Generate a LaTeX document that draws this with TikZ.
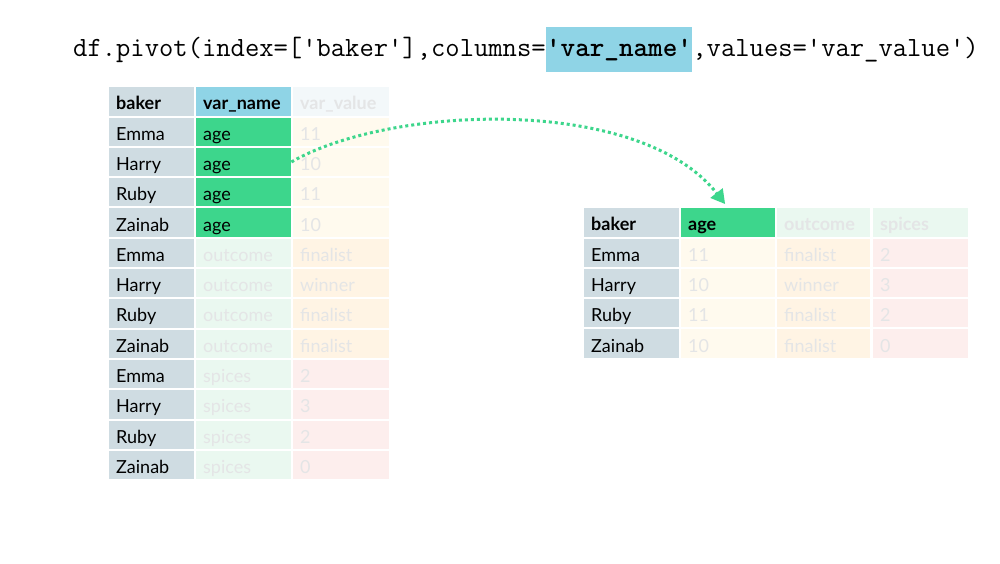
\documentclass[tikz,border=0pt]{standalone}
\usepackage{fontspec}
\setmainfont{Lato}
\usetikzlibrary{arrows.meta}
\definecolor{bakerbg}{RGB}{207,220,226}
\definecolor{hdrblue}{RGB}{143,212,230}
\definecolor{agegreen}{RGB}{61,214,140}
\definecolor{fadetxt}{RGB}{228,229,230}
\definecolor{fblue}{RGB}{243,248,250}
\definecolor{fyel}{RGB}{255,250,238}
\definecolor{fgreen}{RGB}{234,248,240}
\definecolor{forange}{RGB}{255,244,228}
\definecolor{fpink}{RGB}{253,238,237}
\begin{document}
\begin{tikzpicture}[x=1pt,y=-1pt,
  cell/.style={anchor=north west, minimum height=28.3pt, inner xsep=7pt, inner ysep=0pt,
    text height=17pt, text depth=0pt, align=left, font=\fontsize{18}{20}\selectfont},
  hd/.style={font=\fontsize{18}{20}\selectfont\bfseries},
  bk/.style={fill=bakerbg, text=black},
  ag/.style={fill=agegreen, text=black},
  vn/.style={fill=hdrblue, text=black},
  fb/.style={fill=fblue, text=fadetxt},
  fy/.style={fill=fyel, text=fadetxt},
  fg/.style={fill=fgreen, text=fadetxt},
  fo/.style={fill=forange, text=fadetxt},
  fp/.style={fill=fpink, text=fadetxt},
  code/.style={inner xsep=0pt, inner ysep=0pt, font=\fontsize{27.8}{30}\selectfont\ttfamily},
  conn/.style={draw=agegreen, line width=3pt, dash pattern=on 3pt off 3pt,
    -{Triangle[length=14pt,width=15pt,fill=agegreen]}, shorten >=5pt}]
\useasboundingbox[fill=white] (0,0) rectangle (1000,563);

% code line
\node[code, anchor=base west] (c1) at (73,56) {df.pivot(index=['baker'],columns=};
\node[code, anchor=base west, fill=hdrblue, text height=29pt, text depth=16pt,
  font=\fontsize{27.8}{30}\selectfont\ttfamily\bfseries] (c2) at (c1.base east) {'var\_name'};
\node[code, anchor=base west] (c3) at (c2.base east) {,values='var\_value')};

% left table header
\node[cell, bk, hd, minimum width=85pt, text width=71pt] (L-0-1) at (109,87) {baker};
\node[cell, vn, hd, minimum width=95pt, text width=81pt] (L-0-2) at (196,87) {var\_name};
\node[cell, fb, hd, minimum width=96pt, text width=82pt] (L-0-3) at (293,87) {var\_value};

% left table body
\foreach \i/\n/\v/\vs/\val/\vals in {
  1/Emma/age/ag/11/fy, 2/Harry/age/ag/10/fy, 3/Ruby/age/ag/11/fy, 4/Zainab/age/ag/10/fy,
  5/Emma/outcome/fg/finalist/fo, 6/Harry/outcome/fg/winner/fo, 7/Ruby/outcome/fg/finalist/fo, 8/Zainab/outcome/fg/finalist/fo,
  9/Emma/spices/fg/2/fp, 10/Harry/spices/fg/3/fp, 11/Ruby/spices/fg/2/fp, 12/Zainab/spices/fg/0/fp}{
  \node[cell, bk, minimum width=85pt, text width=71pt] (L-\i-1) at (109,87+\i*30.3) {\n};
  \node[cell, \vs, minimum width=95pt, text width=81pt] (L-\i-2) at (196,87+\i*30.3) {\v};
  \node[cell, \vals, minimum width=96pt, text width=82pt] (L-\i-3) at (293,87+\i*30.3) {\val};
}

% right table header
\node[cell, bk, hd, minimum width=95pt, text width=81pt] (R-0-1) at (584,208) {baker};
\node[cell, ag, hd, minimum width=94pt, text width=80pt] (R-0-2) at (681,208) {age};
\node[cell, fg, hd, minimum width=93pt, text width=79pt] (R-0-3) at (777,208) {outcome};
\node[cell, fg, hd, minimum width=95pt, text width=81pt] (R-0-4) at (873,208) {spices};

% right table body
\foreach \i/\n/\a/\o/\s in {1/Emma/11/finalist/2, 2/Harry/10/winner/3, 3/Ruby/11/finalist/2, 4/Zainab/10/finalist/0}{
  \node[cell, bk, minimum width=95pt, text width=81pt] (R-\i-1) at (584,208+\i*30.3) {\n};
  \node[cell, fy, minimum width=94pt, text width=80pt] (R-\i-2) at (681,208+\i*30.3) {\a};
  \node[cell, fo, minimum width=93pt, text width=79pt] (R-\i-3) at (777,208+\i*30.3) {\o};
  \node[cell, fp, minimum width=95pt, text width=81pt] (R-\i-4) at (873,208+\i*30.3) {\s};
}

% connector
\draw[conn] (L-2-2.east) .. controls (390,105) and (640,95) .. (R-0-2.north);
\end{tikzpicture}
\end{document}
